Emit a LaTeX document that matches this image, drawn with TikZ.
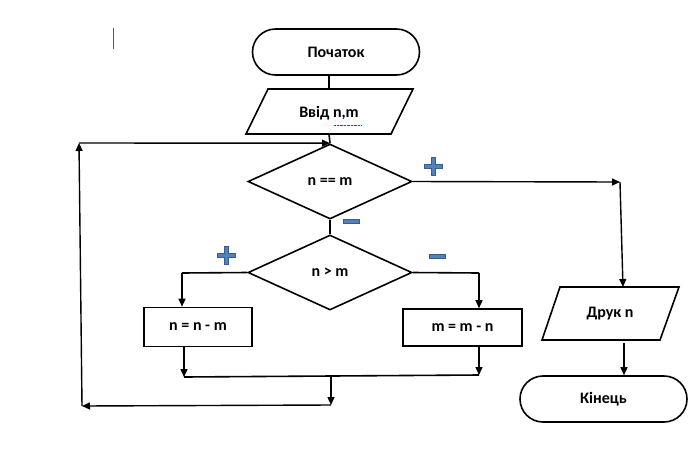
\documentclass[tikz,border=0pt]{standalone}
\usepackage{fontspec}
\setmainfont{Carlito}
\usetikzlibrary{arrows.meta, shapes.geometric, calc}
\definecolor{signfill}{RGB}{79,129,189}
\definecolor{signedge}{RGB}{56,93,138}

\tikzset{
  term/.style={draw, line width=1.6pt, rectangle, rounded corners=23pt, minimum width=167pt, minimum height=46pt},
  proc/.style={draw, line width=1.6pt, rectangle, minimum height=39pt},
  cond/.style={draw, line width=1.6pt, diamond, aspect=2.2, minimum width=164pt, minimum height=75pt, inner sep=0pt},
  label/.style={inner sep=0pt},
  line/.style={line width=1.6pt},
  arr/.style={line width=1.4pt, -{Triangle[length=8pt, width=7pt]}},
  sign/.style={fill=signfill, draw=signedge, line width=0.8pt}
}
\newcommand{\plussign}[1]{%
  \filldraw[sign] ($(#1)+(-2,-9)$) -- ++(4,0) -- ++(0,7) -- ++(7,0) -- ++(0,4) -- ++(-7,0) -- ++(0,7) -- ++(-4,0) -- ++(0,-7) -- ++(-7,0) -- ++(0,-4) -- ++(7,0) -- cycle;}
\newcommand{\minussign}[1]{%
  \filldraw[sign] ($(#1)+(-8,-2)$) rectangle ++(16,4);}

\begin{document}
\begin{tikzpicture}[x=1pt, y=-1pt, font=\fontsize{16}{18}\selectfont\bfseries]
    \useasboundingbox (0,0) rectangle (697,459);

    % blocks
    \node[term] (start) at (336,52) {Початок};
    \draw[line] (268,89) -- (413,89) -- (391,134) -- (246,134) -- cycle;
    \node[label] (input) at (329,113) {Ввід n,m};
    \node[cond] (eq) at (330,181.5) {n == m};
    \node[cond] (gt) at (330,272.5) {n > m};
    \node[proc, minimum width=108pt] (sub1) at (198,327) {n = n - m};
    \node[proc, minimum width=119pt, minimum height=37pt] (sub2) at (462.5,327.5) {m = m - n};
    \draw[line] (560,287) -- (679,287) -- (660,340) -- (542,340) -- cycle;
    \node[label] (print) at (610,314) {Друк n};
    \node[term] (end) at (603.5,399) {Кінець};

    % spell-check mark
    \draw[red, densely dotted, thin] (334,125) -- (362,125);
    % stray cursor
    \draw[gray!70!black, thin] (113,28) -- (113,49);

    % junction points
    \coordinate (s1) at (329,75);
    \coordinate (i1) at (329,89);
    \coordinate (i2) at (329,134);
    \coordinate (lt) at (182,273);
    \coordinate (rt) at (479,273);
    \coordinate (m1) at (184,377);
    \coordinate (m2) at (479,375);
    \coordinate (mc) at (331,376);
    \coordinate (bc) at (331,405);
    \coordinate (bl) at (82,406);
    \coordinate (tl) at (79,143);
    \coordinate (er) at (620,182);
    \coordinate (pt) at (623,287);
    \coordinate (pb) at (624,343);

    % connectors
    \draw[line] (s1) -- (i1);
    \draw[line] (i2) -- (eq.north);
    \draw[line] (eq.south) -- (gt.north);
    \draw[line] (gt.west) -- (lt);
    \draw[arr] (lt) -- (lt |- sub1.north);
    \draw[line] (gt.east) -- (rt);
    \draw[arr] (rt) -- (rt |- sub2.north);
    \draw[arr] (m1 |- sub1.south) -- (m1);
    \draw[arr] (m2 |- sub2.south) -- (m2);
    \draw[line] (m1) -- (m2);
    \draw[arr] (mc) -- (bc);
    \draw[arr] (bc) -- (bl);
    \draw[arr] (bl) -- (tl);
    \draw[arr] (tl) -- (eq.north);
    \draw[arr] (eq.east) -- (er);
    \draw[arr] (er) -- (pt);
    \draw[arr] (pb) -- (end.north -| pb);

    % signs
    \plussign{433,166}
    \minussign{351,221}
    \plussign{226,255}
    \minussign{437,256}
\end{tikzpicture}
\end{document}
